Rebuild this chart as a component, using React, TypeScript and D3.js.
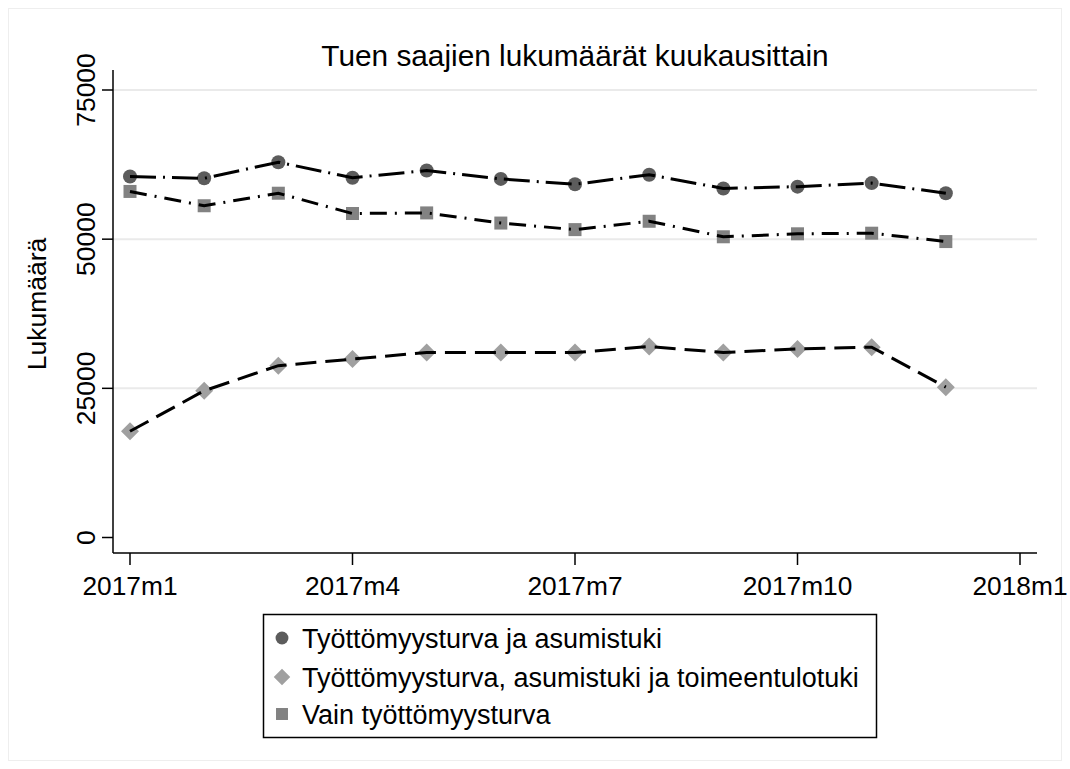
import React from "react";
import * as d3 from "d3";

const months = ["2017m1","2017m2","2017m3","2017m4","2017m5","2017m6","2017m7","2017m8","2017m9","2017m10","2017m11","2017m12"];
const tyoAsumis = [60500, 60200, 62900, 60300, 61500, 60100, 59200, 60800, 58500, 58800, 59400, 57700];
const tyoAsumisToimeentulo = [17800, 24600, 28800, 29900, 31000, 31000, 31000, 32000, 31000, 31600, 31900, 25200];
const vainTyo = [58000, 55600, 57700, 54300, 54400, 52700, 51600, 53000, 50400, 50900, 51000, 49600];
const xTickLabels = ["2017m1", "2017m4", "2017m7", "2017m10", "2018m1"];
const xTickIndex = [0, 3, 6, 9, 12];
const yTicks = [0, 25000, 50000, 75000];
const legendLabels = [
  "Työttömyysturva ja asumistuki",
  "Työttömyysturva, asumistuki ja toimeentulotuki",
  "Vain työttömyysturva",
];

const FONT = "'Liberation Sans', Arial, sans-serif";

export default function App() {
  const W = 1070, H = 769;
  const plot = { left: 113, right: 1037, top: 70, bottom: 553 };
  const x = d3.scaleLinear().domain([0, months.length]).range([130, 1020]);
  const y = d3.scaleLinear().domain([0, 75000]).range([537.5, 90]);
  const line = d3.line<number>().x((_, i) => x(i)).y((d) => y(d));

  const series = [
    { data: tyoAsumis, color: "#5c5c5c", shape: "circle", dash: "26,7,2,7" },
    { data: tyoAsumisToimeentulo, color: "#a0a0a0", shape: "diamond", dash: "21,9" },
    { data: vainTyo, color: "#828282", shape: "square", dash: "17,8,2,8" },
  ];

  const marker = (shape: string, cx: number, cy: number, color: string, key: string, scale = 1) => {
    if (shape === "circle") return <circle key={key} cx={cx} cy={cy} r={7 * scale} fill={color} />;
    if (shape === "square") {
      const s = 13 * scale;
      return <rect key={key} x={cx - s / 2} y={cy - s / 2} width={s} height={s} fill={color} />;
    }
    const r = 9 * scale;
    return <path key={key} d={`M${cx},${cy - r}L${cx + r},${cy}L${cx},${cy + r}L${cx - r},${cy}Z`} fill={color} />;
  };

  const legendY = [638, 677, 714];
  const legendOrder = [0, 1, 2];

  return (
    <svg width={W} height={H} style={{ position: "absolute", left: 0, top: 0, background: "#fff" }} fontFamily={FONT}>
      <rect x={0} y={0} width={W} height={H} fill="#fff" />
      <rect x={8.5} y={8.5} width={W - 17} height={H - 17} fill="none" stroke="#eeeeee" />
      <text x={575} y={66} textAnchor="middle" fontSize={29.8} fill="#000">Tuen saajien lukumäärät kuukausittain</text>

      {yTicks.filter((t) => t > 0).map((t) => (
        <line key={"g" + t} x1={plot.left} x2={plot.right} y1={y(t)} y2={y(t)} stroke="#eaeaea" strokeWidth={2} />
      ))}

      <line x1={plot.left} x2={plot.left} y1={plot.top} y2={plot.bottom} stroke="#000" strokeWidth={1.5} />
      <line x1={plot.left} x2={plot.right} y1={plot.bottom} y2={plot.bottom} stroke="#000" strokeWidth={1.5} />

      {yTicks.map((t) => (
        <g key={"y" + t}>
          <line x1={plot.left - 11} x2={plot.left} y1={y(t)} y2={y(t)} stroke="#000" strokeWidth={1.5} />
          <text transform={`translate(${95},${y(t)}) rotate(-90)`} textAnchor="middle" fontSize={26.5} fill="#000">{t}</text>
        </g>
      ))}
      <text transform={`translate(${46},${304}) rotate(-90)`} textAnchor="middle" fontSize={26.5} fill="#000">Lukumäärä</text>

      {xTickIndex.map((ti, k) => (
        <g key={"x" + ti}>
          <line x1={x(ti)} x2={x(ti)} y1={plot.bottom} y2={plot.bottom + 12} stroke="#000" strokeWidth={1.5} />
          <text x={x(ti)} y={595} textAnchor="middle" fontSize={26.3} fill="#000">{xTickLabels[k]}</text>
        </g>
      ))}

      {series.map((s, si) => (
        <g key={"m" + si}>
          {s.data.map((d, i) => marker(s.shape, x(i), y(d), s.color, `m${si}-${i}`))}
        </g>
      ))}
      {series.map((s, si) => (
        <path key={"l" + si} d={line(s.data) || ""} fill="none" stroke="#000" strokeWidth={3} strokeDasharray={s.dash} />
      ))}

      <rect x={263.5} y={614.5} width={613} height={123} fill="#fff" stroke="#000" strokeWidth={1.5} />
      {legendOrder.map((si, k) => (
        <g key={"lg" + k}>
          {marker(series[si].shape, 282, legendY[k], series[si].color, "lm" + k, 0.92)}
          <text x={302} y={legendY[k] + 10} fontSize={27} fill="#000">{legendLabels[si]}</text>
        </g>
      ))}
    </svg>
  );
}
